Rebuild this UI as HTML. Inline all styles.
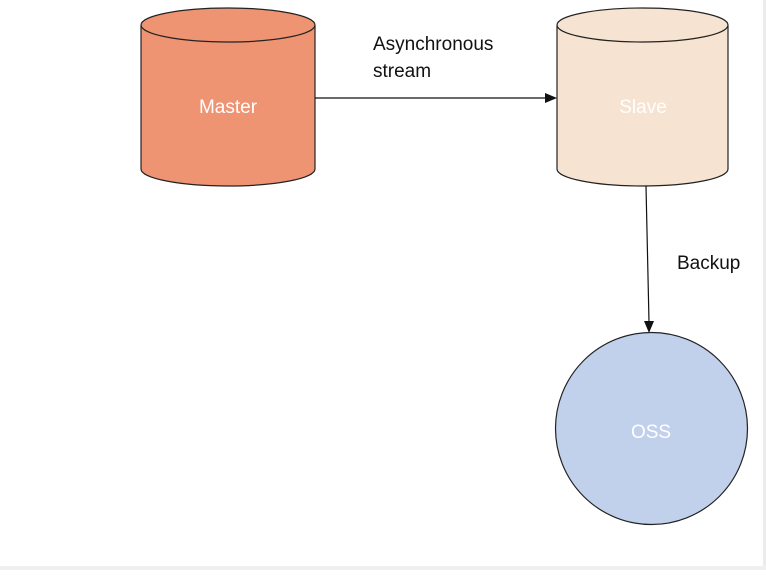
<!DOCTYPE html>
<html><head><style>
html,body{margin:0;padding:0;background:#fff;}
body{width:766px;height:570px;overflow:hidden;}
</style></head><body>
<svg width="766" height="570" xmlns="http://www.w3.org/2000/svg" font-family="Liberation Sans, sans-serif">
<rect x="0" y="0" width="766" height="570" fill="#fff"/>
<rect x="763" y="0" width="3" height="570" fill="#ececec"/>
<rect x="0" y="566" width="766" height="4" fill="#f0f0f0"/>
<!-- Master -->
<path d="M141,25 L141,169 A87,17 0 0 0 315,169 L315,25" fill="#ee9473" stroke="#222" stroke-width="1.2"/>
<ellipse cx="228" cy="25" rx="87" ry="17" fill="#ee9473" stroke="#222" stroke-width="1.2"/>
<text x="228" y="113" font-size="19" fill="#fff" text-anchor="middle">Master</text>
<!-- Slave -->
<path d="M557,25 L557,169 A85.5,17 0 0 0 728,169 L728,25" fill="#f7e3d1" stroke="#222" stroke-width="1.2"/>
<ellipse cx="642.5" cy="25" rx="85.5" ry="17" fill="#f7e3d1" stroke="#222" stroke-width="1.2"/>
<text x="643" y="113" font-size="19" fill="#fff" text-anchor="middle">Slave</text>
<!-- arrow master->slave -->
<line x1="315" y1="98" x2="546" y2="98" stroke="#111" stroke-width="1.2"/>
<polygon points="557,98 545,93 545,103" fill="#111"/>
<text x="373" y="50" font-size="19" fill="#111">Asynchronous</text>
<text x="373" y="77" font-size="19" fill="#111">stream</text>
<!-- arrow slave->oss -->
<line x1="646" y1="186" x2="649" y2="322" stroke="#111" stroke-width="1.2"/>
<polygon points="649,333 644,321 654,321" fill="#111"/>
<text x="677" y="269" font-size="19" fill="#111">Backup</text>
<!-- OSS -->
<circle cx="651.5" cy="428.5" r="96" fill="#c1d1ec" stroke="#222" stroke-width="1.2"/>
<text x="651" y="438" font-size="19" fill="#fff" text-anchor="middle">OSS</text>
</svg>
</body></html>
